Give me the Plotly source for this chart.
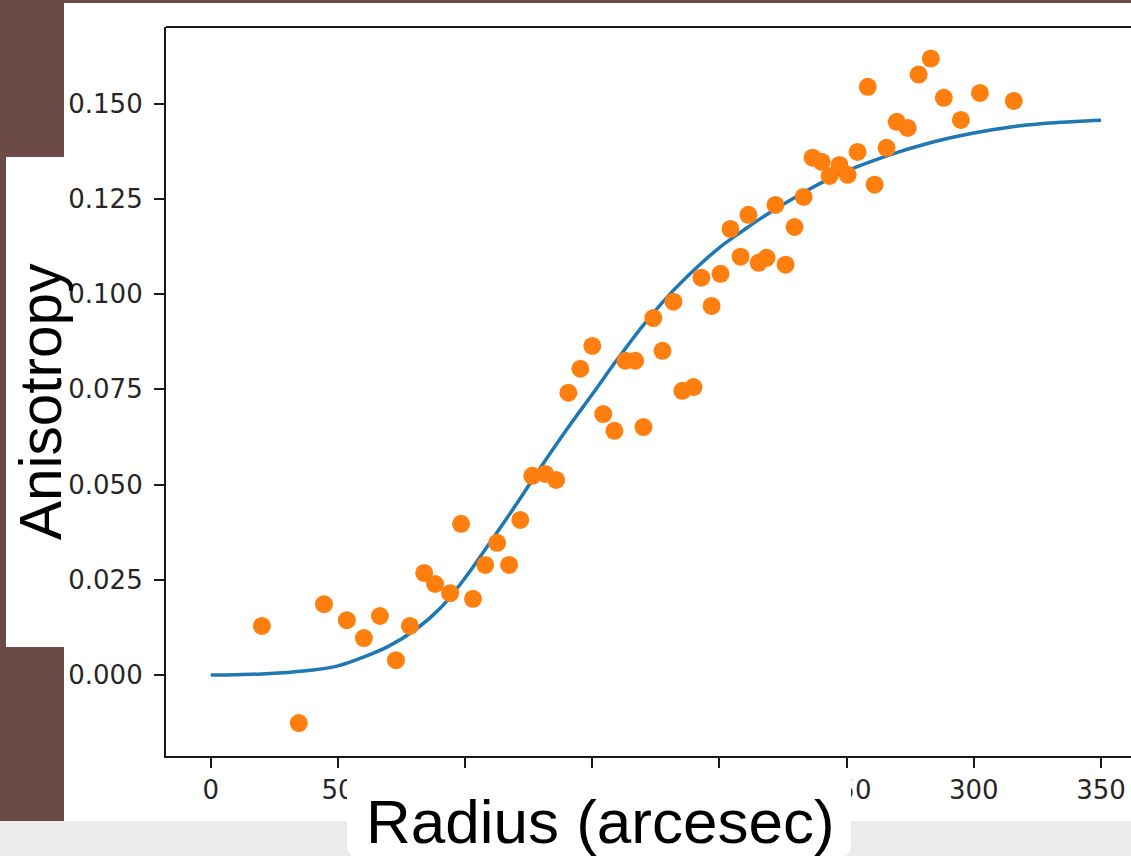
import plotly.graph_objects as go

# ---- data ----
radius = [20.1, 34.6, 44.5, 53.5, 60.2, 66.5, 72.8, 78.3, 83.9, 88.2,
          94.1, 98.4, 103.1, 107.9, 112.6, 117.3, 121.7, 126.4, 131.5, 135.8,
          140.6, 145.3, 150.0, 154.3, 158.7, 163.0, 166.9, 170.1, 174.0, 177.6,
          181.9, 185.4, 189.8, 192.9, 196.9, 200.4, 204.3, 208.3, 211.4, 215.4,
          218.5, 222.0, 226.0, 229.5, 233.1, 236.6, 240.2, 243.3, 247.2, 250.4,
          254.3, 258.3, 261.0, 265.7, 269.7, 274.0, 278.3, 283.1, 288.2, 294.9,
          302.4, 315.7]
anisotropy = [0.0129, -0.0126, 0.0186, 0.0144, 0.0097, 0.0155, 0.0039, 0.0129, 0.0268, 0.0239,
              0.0215, 0.0397, 0.0200, 0.0289, 0.0347, 0.0289, 0.0407, 0.0523, 0.0528, 0.0512,
              0.0741, 0.0804, 0.0864, 0.0685, 0.0641, 0.0825, 0.0825, 0.0651, 0.0937, 0.0851,
              0.0980, 0.0746, 0.0756, 0.1043, 0.0969, 0.1053, 0.1171, 0.1098, 0.1208, 0.1082,
              0.1095, 0.1234, 0.1077, 0.1176, 0.1255, 0.1358, 0.1347, 0.1310, 0.1339, 0.1313,
              0.1373, 0.1544, 0.1287, 0.1384, 0.1452, 0.1436, 0.1576, 0.1618, 0.1515, 0.1457,
              0.1528, 0.1507]

fit_radius = [0, 10, 20, 30, 40, 50, 60, 70, 80, 90, 100, 110, 120, 130, 140, 150,
              160, 170, 180, 190, 200, 210, 220, 230, 240, 250, 260, 270, 280, 290,
              300, 310, 320, 330, 340, 350]
fit_anisotropy = [0.0, 0.0001, 0.0003, 0.0007, 0.0013, 0.0024, 0.0047, 0.0076, 0.0117, 0.0174,
                  0.0255, 0.0350, 0.0447, 0.0548, 0.0645, 0.0737, 0.0830, 0.0918, 0.0996, 0.1063,
                  0.1122, 0.1170, 0.1215, 0.1255, 0.1292, 0.1323, 0.1349, 0.1372, 0.1392, 0.1409,
                  0.1423, 0.1434, 0.1443, 0.1449, 0.1453, 0.1456]

x_ticks = [0, 50, 100, 150, 200, 250, 300, 350]
y_ticks = [0.0, 0.025, 0.05, 0.075, 0.1, 0.125, 0.15]

x_label = "Radius (arcesec)"
y_label = "Anisotropy"

# ---- layout geometry (pixels) ----
W, H = 1131, 856
L, R, T, B = 166, 0, 27, 100
PW, PH = W - L - R, H - T - B

def px(p):
    return (p - L) / PW

def py(p):
    return (H - B - p) / PH

BROWN = "#6b4a48"
GRAY = "#ebebeb"
AX = "#1a1a1a"

fig = go.Figure()
fig.add_trace(go.Scatter(
    x=fit_radius, y=fit_anisotropy, mode="lines",
    line=dict(color="#1f77b4", width=3.5, shape="spline", smoothing=1.0),
    hoverinfo="skip", showlegend=False))
fig.add_trace(go.Scatter(
    x=radius, y=anisotropy, mode="markers",
    marker=dict(color="#ff7f0e", size=18, line=dict(width=0)),
    showlegend=False))

shapes = []

def rect(x0, y0, x1, y1, color, layer="below"):
    shapes.append(dict(type="rect", xref="paper", yref="paper",
                       x0=px(x0), x1=px(x1), y0=py(y1), y1=py(y0),
                       fillcolor=color, line=dict(width=0), layer=layer))

rect(0, 0, 64, 821, BROWN)
rect(0, 0, W, 3, BROWN)
rect(0, 821, W, H + 2, GRAY)
rect(6, 157, 66, 647, "white")

# rounded white box behind the x-axis title
bx0, by0, bx1, by1, r = 347, 768, 851, 857, 12
def P(x, y):
    return f"{px(x):.6f},{py(y):.6f}"
path = (f"M {P(bx0 + r, by0)} L {P(bx1 - r, by0)} Q {P(bx1, by0)} {P(bx1, by0 + r)} "
        f"L {P(bx1, by1 - r)} Q {P(bx1, by1)} {P(bx1 - r, by1)} "
        f"L {P(bx0 + r, by1)} Q {P(bx0, by1)} {P(bx0, by1 - r)} "
        f"L {P(bx0, by0 + r)} Q {P(bx0, by0)} {P(bx0 + r, by0)} Z")
shapes.append(dict(type="path", xref="paper", yref="paper", path=path,
                   fillcolor="white", line=dict(width=0), layer="above"))

# top spine
shapes.append(dict(type="line", xref="paper", yref="paper", x0=0, x1=1.01, y0=1, y1=1,
                   line=dict(color=AX, width=2.2), layer="above"))

tickfont = dict(family="DejaVu Sans", size=26, color="#262626")

fig.update_layout(
    width=W, height=H,
    margin=dict(l=L, r=R, t=T, b=B, pad=0),
    paper_bgcolor="white", plot_bgcolor="white",
    shapes=shapes,
    xaxis=dict(range=[-17.6, 361.8], tickvals=x_ticks, ticktext=[str(v) for v in x_ticks],
               ticks="outside", ticklen=10, tickwidth=2.2, tickcolor=AX,
               showline=True, linecolor=AX, linewidth=2.2,
               showgrid=False, zeroline=False, tickfont=tickfont, ticklabelstandoff=0),
    yaxis=dict(range=[-0.02125, 0.1701], tickvals=y_ticks, tickformat=".3f",
               ticks="outside", ticklen=10, tickwidth=2.2, tickcolor=AX,
               showline=True, linecolor=AX, linewidth=2.2,
               showgrid=False, zeroline=False, tickfont=tickfont, ticklabelstandoff=6),
    annotations=[
        dict(text=y_label, xref="paper", yref="paper", x=px(40), y=py(401),
             xanchor="center", yanchor="middle", textangle=-90, showarrow=False,
             font=dict(family="Liberation Sans", size=58.5, color="black")),
        dict(text=x_label, xref="paper", yref="paper", x=px(600), y=py(821),
             xanchor="center", yanchor="middle", showarrow=False,
             font=dict(family="Liberation Sans", size=62, color="black")),
    ],
)

fig.write_html("out.html", config={"displayModeBar": False},
               post_script="document.body.style.margin='0';document.body.style.overflow='hidden';")
